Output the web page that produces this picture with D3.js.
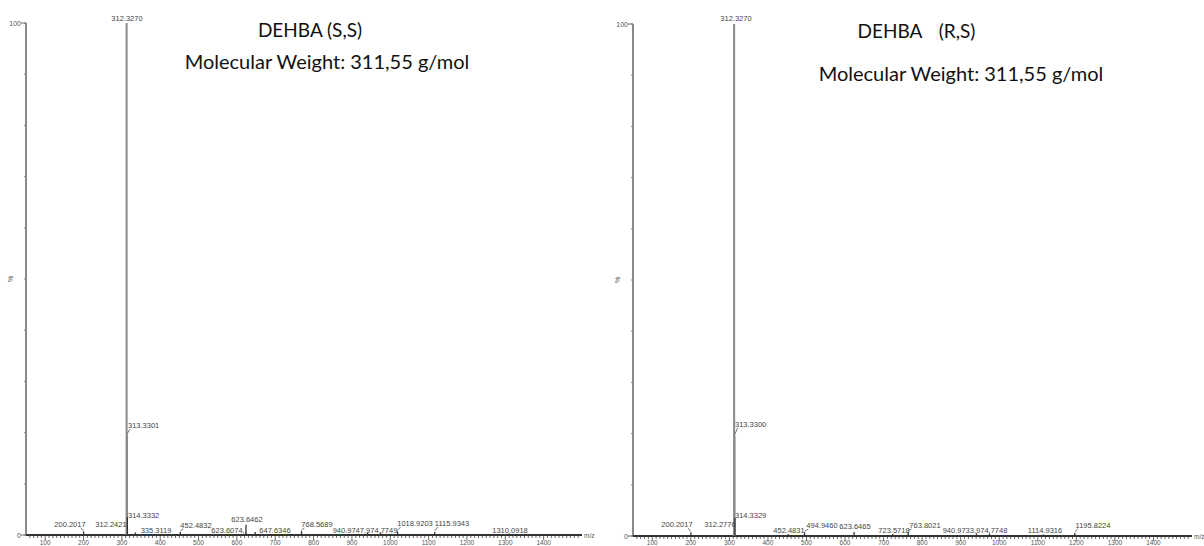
<!DOCTYPE html>
<html><head><meta charset="utf-8">
<script src="https://cdn.jsdelivr.net/npm/d3@7"></script>
<style>body{margin:0;background:#fff}svg{display:block}</style>
</head><body>
<svg id="c" width="1204" height="546"></svg>
<script>
// ---------- data ----------
const xTicks = [100,200,300,400,500,600,700,800,900,1000,1100,1200,1300,1400];
const yTickLabels = ["0","100"];

// Panel 1: DEHBA (S,S)
const mzSS  = [200.2017, 312.2421, 312.3270, 313.3301, 314.3332, 335.3119, 452.4832, 623.6074, 623.6462, 647.6346, 768.5689, 940.9747, 974.7749, 1018.9203, 1115.9343, 1310.0918];
const intSS = [0.7, 1.2, 100, 19.5, 3.5, 0.5, 0.6, 0.4, 2.0, 0.6, 0.8, 0.5, 0.5, 0.7, 0.6, 0.3];
const labSS = ["200.2017","312.2421","312.3270","313.3301","314.3332","335.3119","452.4832","623.6074,","623.6462","647.6346","768.5689","940.9747,974.7749","","1018.9203","1115.9343","1310.0918"];

// Panel 2: DEHBA (R,S)
const mzRS  = [200.2017, 312.2776, 312.3270, 313.3300, 314.3329, 452.4831, 494.9460, 623.6465, 723.5718, 763.8021, 940.9733, 974.7748, 1114.9316, 1195.8224];
const intRS = [0.7, 1.2, 100, 19.5, 3.5, 0.4, 0.7, 0.8, 0.4, 0.8, 0.5, 0.5, 0.3, 0.6];
const labRS = ["200.2017","312.2776","312.3270","313.3300","314.3329","452.4831","494.9460","623.6465","723.5718","763.8021","940.9733,974.7748","","1114.9316","1195.8224"];

// ---------- layout (label placement in pixels) ----------
const labPosSS = [[70,527],[111,527],[127,21],[128,428,"start"],[128,518,"start"],[156,533],[196,528],[228,533],[247,522],[275,533],[317,527],[365,533],[0,0],[415,526],[452,526],[510,533]];
const labPosRS = [[677,527],[720,527],[736,21],[735,427,"start"],[735,518,"start"],[789,533],[822,528],[855,529],[894,533],[925,528],[975,533],[0,0],[1045,533],[1093,528]];

const panels = [
  {mz: mzSS, it: intSS, lab: labSS, pos: labPosSS, x0: 26, x1: 582, y0: 535, y1: 23,
   title: [{t:"DEHBA (S,S)", x:310, y:37}], mw: {x:327, y:69}},
  {mz: mzRS, it: intRS, lab: labRS, pos: labPosRS, x0: 633, x1: 1192, y0: 536, y1: 24,
   title: [{t:"DEHBA", x:890, y:38}, {t:"(R,S)", x:957, y:38}], mw: {x:961, y:81}}
];

const svg = d3.select("#c");
const smallFont = "'Liberation Sans', Arial, sans-serif";

panels.forEach(p => {
  const x = d3.scaleLinear().domain([50,1500]).range([p.x0, p.x1]);
  const y = d3.scaleLinear().domain([0,100]).range([p.y0, p.y1]);
  const g = svg.append("g");

  // y axis
  g.append("line").attr("x1",p.x0).attr("x2",p.x0).attr("y1",y(100)).attr("y2",y(0))
    .attr("stroke","#8a8a8a").attr("stroke-width",2);
  d3.range(0,101,10).forEach(v=>{
    g.append("line").attr("x1",p.x0-2).attr("x2",p.x0).attr("y1",y(v)).attr("y2",y(v))
      .attr("stroke","#8a8a8a").attr("stroke-width",1);
  });
  g.append("line").attr("x1",p.x0-5).attr("x2",p.x0).attr("y1",y(100)).attr("y2",y(100)).attr("stroke","#666");
  g.append("line").attr("x1",p.x0-5).attr("x2",p.x0).attr("y1",y(0)).attr("y2",y(0)).attr("stroke","#666");
  g.append("text").attr("x",p.x0-5).attr("y",y(100)+3).attr("text-anchor","end")
    .attr("font-family",smallFont).attr("font-size",7).attr("fill","#555").text(yTickLabels[1]);
  g.append("text").attr("x",p.x0-5).attr("y",y(0)+3).attr("text-anchor","end")
    .attr("font-family",smallFont).attr("font-size",7).attr("fill","#555").text(yTickLabels[0]);
  g.append("text").attr("transform",`translate(${p.x0-13},${y(50)}) rotate(-90)`).attr("text-anchor","middle")
    .attr("font-family",smallFont).attr("font-size",7).attr("fill","#555").text("%");

  // x axis
  const xa = g.append("g").attr("transform",`translate(0,${p.y0})`);
  d3.range(60,1500,10).forEach(v=>{
    xa.append("line").attr("x1",x(v)).attr("x2",x(v)).attr("y1",0).attr("y2", v%100===0?5:3)
      .attr("stroke","#444").attr("stroke-width",0.8);
  });
  xa.append("line").attr("x1",p.x0).attr("x2",p.x1).attr("y1",0).attr("y2",0)
    .attr("stroke","#333").attr("stroke-width",2);
  xa.selectAll("text.tk").data(xTicks).join("text").attr("class","tk")
    .attr("x",d=>x(d)).attr("y",p.y0===535?10:9).attr("text-anchor","middle")
    .attr("font-family",smallFont).attr("font-size",6.5).attr("fill","#555").text(d=>d);
  xa.append("text").attr("x",p.x1+2).attr("y",3).attr("font-family",smallFont)
    .attr("font-size",6.5).attr("fill","#555").text("m/z");

  // peaks
  g.selectAll("line.pk").data(p.mz).join("line").attr("class","pk")
    .attr("x1",d=>x(d)).attr("x2",d=>x(d)).attr("y1",p.y0).attr("y2",(d,i)=>y(p.it[i]))
    .attr("stroke",(d,i)=>p.it[i]>10?"#8a8a8a":"#333").attr("stroke-width",(d,i)=>p.it[i]>10?2:1.3);

  // labels with leader lines
  p.mz.forEach((m,i)=>{
    if(!p.lab[i]) return;
    const pos = p.pos[i];
    const anchor = pos[2] || "middle";
    const t = g.append("text").attr("x",pos[0]).attr("y",pos[1]).attr("text-anchor",anchor)
      .attr("font-family",smallFont).attr("font-size",7.5).attr("fill","#444").text(p.lab[i]);
    const w = t.node().getComputedTextLength();
    const lx0 = anchor==="start"?pos[0]:pos[0]-w/2, lx1 = lx0+w;
    const px = x(m), py = y(p.it[i]);
    const sy = pos[1]+1;
    if(py - sy > 2){
      const sx = Math.max(lx0+2, Math.min(lx1-2, px + (px<lx0+w/2? 3 : -3)));
      g.append("line").attr("x1",sx).attr("y1",sy).attr("x2",px).attr("y2",py-1)
        .attr("stroke","#555").attr("stroke-width",0.8);
    }
  });

  // titles
  p.title.forEach(tt=>{
    svg.append("text").attr("x",tt.x).attr("y",tt.y).attr("text-anchor","middle")
      .attr("font-family","Lato, 'Open Sans', sans-serif").attr("font-size",19).attr("fill","#111").text(tt.t);
  });
  svg.append("text").attr("x",p.mw.x).attr("y",p.mw.y).attr("text-anchor","middle")
    .attr("font-family","Lato, 'Open Sans', sans-serif").attr("font-size",20).attr("fill","#111")
    .text("Molecular Weight: 311,55 g/mol");
});
</script>
</body></html>
